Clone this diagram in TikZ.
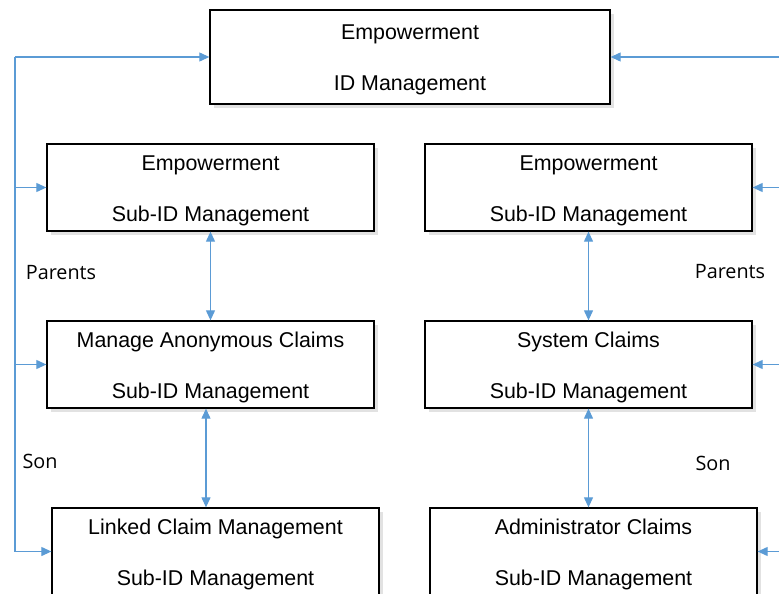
\documentclass[tikz,border=0pt]{standalone}
\usepackage{fontspec}
\setmainfont{Liberation Sans}
\newfontfamily\labfont{Open Sans}
\usetikzlibrary{arrows.meta,shadows}
\definecolor{connblue}{HTML}{5B9BD5}
\definecolor{shadowgray}{HTML}{E2E2E2}
\tikzset{
  box/.style={draw=black, line width=1.3pt, fill=white, minimum width=327pt, minimum height=87pt,
    inner sep=0pt, align=center, font=\fontsize{21.4}{51}\selectfont, text height=72.3pt,
    drop shadow={shadow xshift=4pt, shadow yshift=-4pt, fill=shadowgray, opacity=1}},
  topbox/.style={box, minimum width=400pt, minimum height=94pt},
  conn/.style={draw=connblue, line width=1.1pt},
  onehead/.style={conn, -{Triangle[length=10pt,width=9pt]}},
  twohead/.style={conn, {Triangle[length=10pt,width=9pt]}-{Triangle[length=10pt,width=9pt]}},
  lab/.style={font=\labfont\fontsize{19.8}{22}\selectfont, inner sep=0pt}
}
\begin{document}
\begin{tikzpicture}[x=1pt,y=1pt]
\useasboundingbox (0,0) rectangle (779,-594);
% boxes
\node[topbox] (top) at (410,-57) {Empowerment\\ID Management};
\node[box] (l1) at (210.5,-187.5) {Empowerment\\Sub-ID Management};
\node[box] (r1) at (588.5,-187.5) {Empowerment\\Sub-ID Management};
\node[box] (l2) at (210.5,-364.5) {Manage Anonymous Claims\\Sub-ID Management};
\node[box] (r2) at (588.5,-364.5) {System Claims\\Sub-ID Management};
\node[box] (l3) at (215.5,-551.5) {Linked Claim Management\\Sub-ID Management};
\node[box] (r3) at (593.5,-551.5) {Administrator Claims\\Sub-ID Management};
% left trunk
\coordinate (lt) at (15,-57);
\coordinate (lb) at (15,-551.5);
\draw[conn] (lt) -- (lb);
\draw[onehead] (lt) -- (top.west);
\draw[onehead] (l1.west -| lt) -- (l1.west);
\draw[onehead] (l2.west -| lt) -- (l2.west);
\draw[onehead] (lb) -- (l3.west);
% right side feeds
\coordinate (rt) at (779,-57);
\draw[onehead] (rt) -- (top.east);
\draw[onehead] (r1.east -| rt) -- (r1.east);
\draw[onehead] (r2.east -| rt) -- (r2.east);
\draw[onehead] (r3.east -| rt) -- (r3.east);
% vertical double arrows
\draw[twohead] (l1.south) -- (l2.north);
\coordinate (l2s) at ([xshift=-4.5pt]l2.south);
\draw[twohead] (l2s) -- (l2s |- l3.north);
\draw[twohead] (r1.south) -- (r2.north);
\draw[twohead] (r2.south) -- (r2.south |- r3.north);
% labels
\node[lab] (pl) at (61,-273) {Parents};
\node[lab] (sl) at (40,-461) {Son};
\node[lab] (pr) at (730,-272) {Parents};
\node[lab] (sr) at (713,-463) {Son};
\end{tikzpicture}
\end{document}
